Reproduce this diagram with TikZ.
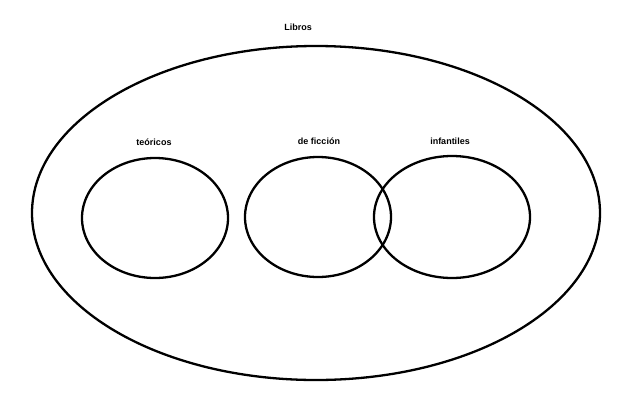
\documentclass[tikz,border=0pt]{standalone}
\usepackage{fontspec}
\setmainfont{Liberation Sans}
\begin{document}
\begin{tikzpicture}[x=1pt,y=-1pt,
  set/.style={draw=black,line width=2.3pt},
  lbl/.style={font=\bfseries\fontsize{9}{11}\selectfont}]
\useasboundingbox (0,0) rectangle (640,408);
\draw[set] (316,213) ellipse [x radius=284,y radius=167];
\draw[set] (155,218) ellipse [x radius=73,y radius=60];
\draw[set] (318,217) ellipse [x radius=73,y radius=60];
\draw[set] (452,217) ellipse [x radius=78,y radius=61];
\node[lbl] (libros) at (298,27) {Libros};
\node[lbl] (teo) at (154,142) {teóricos};
\node[lbl] (fic) at (319,141) {de ficción};
\node[lbl] (inf) at (450,141) {infantiles};
\end{tikzpicture}
\end{document}
